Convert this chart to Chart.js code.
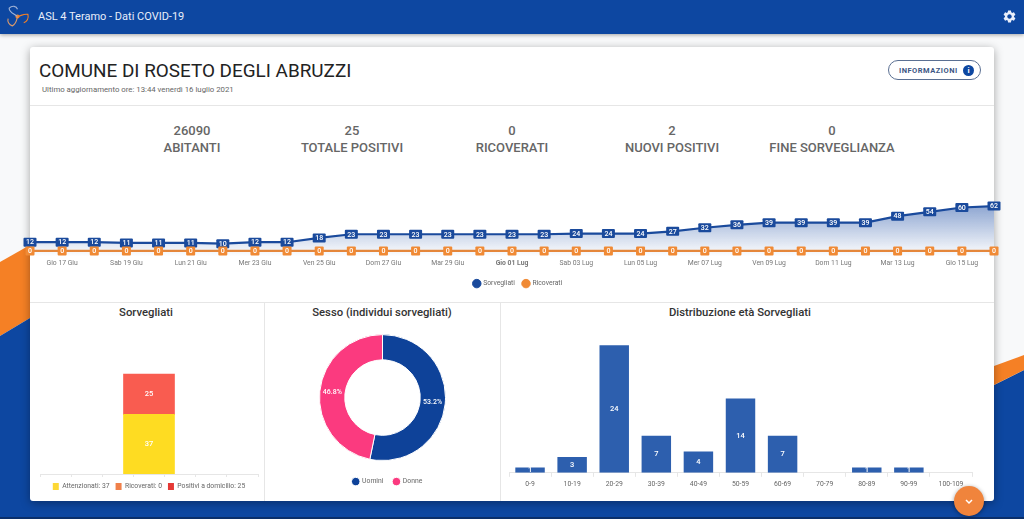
<!DOCTYPE html>
<html>
<head>
<meta charset="utf-8">
<title>ASL 4 Teramo - Dati COVID-19</title>
<script src="https://cdn.jsdelivr.net/npm/chart.js@4"></script>
<style>
html,body{margin:0;padding:0;width:1024px;height:519px;overflow:hidden;background:#f8f9fa;font-family:Roboto,sans-serif}
.abs{position:absolute}
#bg{left:0;top:0}
#topbar{left:0;top:0;width:1024px;height:34px;background:#0d47a1;box-shadow:0 1px 4px rgba(0,0,0,.35);color:#e8eefa;font-size:11px;line-height:33px}
#card{left:30px;top:47px;width:964px;height:454px;background:#fff;border-radius:3px;box-shadow:0 2px 10px rgba(0,0,0,.35)}
.sep{background:#e6e6e6}
.kpi{width:170px;text-align:center;color:#666;font-weight:500;font-size:13px;line-height:17px}
.ptitle{text-align:center;color:#333;font-weight:500;font-size:11.3px;top:306px}
.chartbox{position:absolute}
#fab{left:954px;top:486px;width:30px;height:30px;border-radius:50%;background:#f0843c;box-shadow:0 1px 4px rgba(0,0,0,.4)}
</style>
</head>
<body>
<svg id="bg" class="abs" width="1024" height="519">
  <polygon points="0,262 30,245 30,318 0,336" fill="#f58025"/>
  <polygon points="0,336 30,318 994,385 1024,370 1024,519 0,519" fill="#0d47a1"/>
  <polygon points="994,366 1024,355 1024,370 994,385" fill="#f58025"/>
  <rect x="0" y="517" width="1024" height="2" fill="#0a2f6b"/>
</svg>
<div id="topbar" class="abs">
  <svg class="abs" style="left:5px;top:4px" width="25" height="25" viewBox="0 0 24 24" fill="none" stroke-width="1.1">
    <circle cx="12" cy="12" r="2" fill="#f58025"/>
    <path d="M12 12C8 9 4 8 4 4c3-3 7-2 8 1" stroke="#9fb2d6"/>
    <path d="M12 12c4-1 7-3 10-2 1 4-1 7-4 8" stroke="#f58025"/>
    <path d="M12 12c-1 4-1 7-5 9-3-1-5-4-4-7" stroke="#d99a6c"/>
  </svg>
  <span class="abs" style="left:38px;white-space:nowrap">ASL 4 Teramo - Dati COVID-19</span>
  <svg class="abs" style="left:1002px;top:9px" width="15" height="15" viewBox="0 0 24 24" fill="#e8eefa"><path d="M19.14 12.94c.04-.3.06-.61.06-.94 0-.32-.02-.64-.07-.94l2.03-1.58c.18-.14.23-.41.12-.61l-1.92-3.32c-.12-.22-.37-.29-.59-.22l-2.39.96c-.5-.38-1.03-.7-1.62-.94l-.36-2.54c-.04-.24-.24-.41-.48-.41h-3.84c-.24 0-.43.17-.47.41l-.36 2.54c-.59.24-1.13.57-1.62.94l-2.39-.96c-.22-.08-.47 0-.59.22L2.74 8.87c-.12.21-.08.47.12.61l2.03 1.58c-.05.3-.09.63-.09.94s.02.64.07.94l-2.03 1.58c-.18.14-.23.41-.12.61l1.92 3.32c.12.22.37.29.59.22l2.39-.96c.5.38 1.03.7 1.62.94l.36 2.54c.05.24.24.41.48.41h3.84c.24 0 .44-.17.47-.41l.36-2.54c.59-.24 1.13-.56 1.62-.94l2.39.96c.22.08.47 0 .59-.22l1.92-3.32c.12-.22.07-.47-.12-.61l-2.01-1.58zM12 15.6c-1.98 0-3.6-1.62-3.6-3.6s1.62-3.6 3.6-3.6 3.6 1.62 3.6 3.6-1.62 3.6-3.6 3.6z"/></svg>
</div>
<div id="card" class="abs"></div>

<div class="abs" style="left:39px;top:59px;font-size:18.9px;line-height:24px;color:#222;white-space:nowrap">COMUNE DI ROSETO DEGLI ABRUZZI</div>
<div class="abs" style="left:42px;top:84px;font-size:7.8px;line-height:12px;color:#666;white-space:nowrap">Ultimo aggiornamento ore: 13:44 venerdì 16 luglio 2021</div>
<div class="abs" style="left:888px;top:60px;width:91px;height:18px;border:1px solid #5a6f92;border-radius:11px;color:#3c5684;font-size:7.5px;font-weight:700;letter-spacing:.5px;line-height:19px;text-indent:10px;white-space:nowrap">INFORMAZIONI</div>
<div class="abs" style="left:963px;top:65px;width:11px;height:11px;border-radius:50%;background:#0d47a1;color:#fff;font-size:8px;font-weight:700;line-height:11px;text-align:center">i</div>
<div class="abs sep" style="left:30px;top:105px;width:964px;height:1px"></div>
<div class="abs sep" style="left:30px;top:302px;width:964px;height:1px"></div>
<div class="abs sep" style="left:264px;top:302px;width:1px;height:199px"></div>
<div class="abs sep" style="left:500px;top:302px;width:1px;height:199px"></div>

<div class="abs kpi" style="left:107px;top:122px">26090<br>ABITANTI</div>
<div class="abs kpi" style="left:267px;top:122px">25<br>TOTALE POSITIVI</div>
<div class="abs kpi" style="left:427px;top:122px">0<br>RICOVERATI</div>
<div class="abs kpi" style="left:587px;top:122px">2<br>NUOVI POSITIVI</div>
<div class="abs kpi" style="left:747px;top:122px">0<br>FINE SORVEGLIANZA</div>

<div class="abs ptitle" style="left:46px;width:200px">Sorvegliati</div>
<div class="abs ptitle" style="left:282px;width:200px">Sesso (individui sorvegliati)</div>
<div class="abs ptitle" style="left:640px;width:200px">Distribuzione età Sorvegliati</div>

<div class="chartbox" style="left:0;top:193px;width:1024px;height:104px"><canvas id="trendChart"></canvas></div>
<div class="chartbox" style="left:32px;top:324px;width:232px;height:176px"><canvas id="statusChart"></canvas></div>
<div class="chartbox" style="left:265px;top:327px;width:235px;height:168px"><canvas id="genderChart"></canvas></div>
<div class="chartbox" style="left:502px;top:324px;width:480px;height:167px"><canvas id="ageChart"></canvas></div>

<div id="fab" class="abs">
  <svg width="30" height="30" viewBox="0 0 30 30" fill="none" stroke="#fff" stroke-width="1.5"><path d="M12 14l3 3 3-3"/></svg>
</div>

<script>
// trend data, 16 Giu - 16 Lug
const days = ['Mer 16 Giu','Gio 17 Giu','Ven 18 Giu','Sab 19 Giu','Dom 20 Giu','Lun 21 Giu','Mar 22 Giu','Mer 23 Giu','Gio 24 Giu','Ven 25 Giu','Sab 26 Giu','Dom 27 Giu','Lun 28 Giu','Mar 29 Giu','Mer 30 Giu','Gio 01 Lug','Ven 02 Lug','Sab 03 Lug','Dom 04 Lug','Lun 05 Lug','Mar 06 Lug','Mer 07 Lug','Gio 08 Lug','Ven 09 Lug','Sab 10 Lug','Dom 11 Lug','Lun 12 Lug','Mar 13 Lug','Mer 14 Lug','Gio 15 Lug','Ven 16 Lug'];
const sorvegliati = [12,12,12,11,11,11,10,12,12,18,23,23,23,23,23,23,23,24,24,24,27,32,36,39,39,39,39,48,54,60,62];
const ricoverati = [0,0,0,0,0,0,0,0,0,0,0,0,0,0,0,0,0,0,0,0,0,0,0,0,0,0,0,0,0,0,0];

const attenzionati = 37;
const ricoveratiOggi = 0;
const positiviDomicilio = 25;

const sessoLabels = ['Uomini','Donne'];
const sessoValues = [33,29];

const ageLabels = ['0-9','10-19','20-29','30-39','40-49','50-59','60-69','70-79','80-89','90-99','100-109'];
const ageValues = [1,3,24,7,4,14,7,0,1,1,0];

const BLUE = '#1a4a9c', ORANGE = '#f08a35';
const SMALL = 6.8;
Chart.defaults.font.family = 'Roboto, sans-serif';
Chart.defaults.animation = false;
Chart.defaults.maintainAspectRatio = false;
Chart.defaults.plugins.tooltip.enabled = false;

// no datalabels plugin available, so small one here
const boxLabels = {
  id: 'boxLabels',
  afterDatasetsDraw(chart) {
    const c = chart.ctx;
    chart.data.datasets.forEach((ds, i) => {
      const w = i === 0 ? 13 : 9;
      chart.getDatasetMeta(i).data.forEach((pt, k) => {
        c.fillStyle = ds.borderColor;
        c.beginPath();
        c.roundRect(pt.x - w / 2, pt.y - 4.5, w, 9, 1);
        c.fill();
        c.fillStyle = '#fff';
        c.font = '500 7px Roboto';
        c.textAlign = 'center';
        c.textBaseline = 'middle';
        c.fillText(ds.data[k], pt.x, pt.y + 0.5);
      });
    });
  }
};

const whiteLabels = {
  id: 'whiteLabels',
  afterDatasetsDraw(chart) {
    const c = chart.ctx;
    c.fillStyle = '#fff';
    c.font = '500 7.5px Roboto';
    c.textAlign = 'center';
    c.textBaseline = 'middle';
    chart.data.datasets.forEach((ds, i) => {
      chart.getDatasetMeta(i).data.forEach((el, k) => {
        const raw = ds.data[k];
        const val = raw && raw.y !== undefined ? raw.y : raw;
        if (!val) return;
        const p = el.getCenterPoint();
        c.fillText(val, p.x, p.y);
      });
    });
  }
};

const percentLabels = {
  id: 'percentLabels',
  afterDatasetsDraw(chart) {
    const c = chart.ctx, ds = chart.data.datasets[0];
    const total = ds.data.reduce((a, b) => a + b, 0);
    c.fillStyle = '#fff';
    c.font = '500 7px Roboto';
    c.textAlign = 'center';
    c.textBaseline = 'middle';
    chart.getDatasetMeta(0).data.forEach((arc, k) => {
      const p = arc.tooltipPosition();
      c.fillText((ds.data[k] / total * 100).toFixed(1) + '%', p.x, p.y);
    });
  }
};

// legends sit a little right of centre in the original
const nudgeLegend = dx => ({
  id: 'nudgeLegend',
  afterLayout(chart) {
    chart.legend.left += dx;
    chart.legend.right += dx;
  }
});

new Chart(document.getElementById('trendChart'), {
  type: 'line',
  data: {
    labels: days,
    datasets: [
      { label: 'Sorvegliati', data: sorvegliati, borderColor: BLUE, borderWidth: 2.2, pointRadius: 0, tension: 0, fill: 'start',
        backgroundColor(ctx) {
          const a = ctx.chart.chartArea;
          if (!a) return 'transparent';
          const g = ctx.chart.ctx.createLinearGradient(0, a.top, 0, a.bottom);
          g.addColorStop(0, 'rgba(20,70,160,0.6)');
          g.addColorStop(1, 'rgba(20,70,160,0)');
          return g;
        } },
      { label: 'Ricoverati', data: ricoverati, borderColor: ORANGE, borderWidth: 2.2, pointRadius: 0 }
    ]
  },
  options: {
    layout: { padding: { left: 30, right: 30 } },
    scales: {
      x: { offset: false, grid: { display: false, drawTicks: false }, border: { display: false },
        // keep the legend lower than the tick labels need
        afterFit(scale) { scale.height = 15.5; },
        ticks: { autoSkip: false, maxRotation: 0, padding: 2.5, color: '#777',
          font: c => ({ size: SMALL, weight: days[c.index] === 'Gio 01 Lug' ? 'bold' : 'normal' }),
          callback(v, i) { return i % 2 ? days[i] : ''; } } },
      y: { display: false, min: -8, max: 80 }
    },
    plugins: {
      legend: { position: 'bottom', labels: { usePointStyle: true, pointStyle: 'circle', boxWidth: 6, boxHeight: 6, padding: 8, color: '#666', font: { size: SMALL },
        generateLabels(chart) {
          return chart.data.datasets.map((d, i) => ({ text: d.label, fillStyle: d.borderColor, strokeStyle: d.borderColor, fontColor: '#666', pointStyle: 'circle', datasetIndex: i }));
        } } }
    }
  },
  plugins: [boxLabels, nudgeLegend(6)]
});

const statusLegendColors = ['#fdd835','#f0804a','#e53935'];
new Chart(document.getElementById('statusChart'), {
  type: 'bar',
  data: {
    datasets: [
      { label: 'Attenzionati: ' + attenzionati, data: [{ x: 0, y: attenzionati }], backgroundColor: '#fedc22', barThickness: 51 },
      { label: 'Ricoverati: ' + ricoveratiOggi, data: [{ x: 0, y: ricoveratiOggi }], backgroundColor: '#f0804a', barThickness: 51 },
      { label: 'Positivi a domicilio: ' + positiviDomicilio, data: [{ x: 0, y: positiviDomicilio }], backgroundColor: '#f95c50', barThickness: 51 }
    ]
  },
  options: {
    layout: { padding: { left: 8, right: 6 } },
    scales: {
      x: { type: 'linear', stacked: true, min: -3, max: 3, border: { color: '#e6e6e6' }, grid: { drawOnChartArea: false, tickLength: 3, color: '#e6e6e6' }, ticks: { stepSize: 1, display: false } },
      y: { stacked: true, display: false, min: 0, max: 93 }
    },
    plugins: {
      legend: { position: 'bottom', labels: { boxWidth: 6, boxHeight: 7, padding: 6, color: '#666', font: { size: SMALL },
        generateLabels(chart) {
          return chart.data.datasets.map((d, i) => ({ text: d.label, fillStyle: statusLegendColors[i], strokeStyle: statusLegendColors[i], lineWidth: 0, fontColor: '#666', datasetIndex: i }));
        } } }
    }
  },
  plugins: [whiteLabels]
});

new Chart(document.getElementById('genderChart'), {
  type: 'doughnut',
  data: { labels: sessoLabels, datasets: [{ data: sessoValues, backgroundColor: ['#0e4299','#fb3a7f'], borderColor: '#fff', borderWidth: 1 }] },
  options: {
    radius: 63,
    cutout: 42,
    plugins: { legend: { position: 'bottom', labels: { usePointStyle: true, pointStyle: 'circle', boxWidth: 6, boxHeight: 6, padding: 10, color: '#666', font: { size: SMALL } } } }
  },
  plugins: [percentLabels, nudgeLegend(5)]
});

new Chart(document.getElementById('ageChart'), {
  type: 'bar',
  data: { labels: ageLabels, datasets: [{ label: 'Sorvegliati', data: ageValues, backgroundColor: '#2d5fae', categoryPercentage: 1, barPercentage: 0.7 }] },
  options: {
    layout: { padding: { left: 7, right: 10 } },
    scales: {
      x: { border: { color: '#e6e6e6' }, grid: { drawOnChartArea: false, tickLength: 4, color: '#e6e6e6' }, ticks: { autoSkip: false, maxRotation: 0, color: '#666', font: { size: SMALL }, padding: 3 } },
      y: { display: false, min: 0, max: 28 }
    },
    plugins: { legend: { display: false } }
  },
  plugins: [whiteLabels]
});
</script>
</body>
</html>
